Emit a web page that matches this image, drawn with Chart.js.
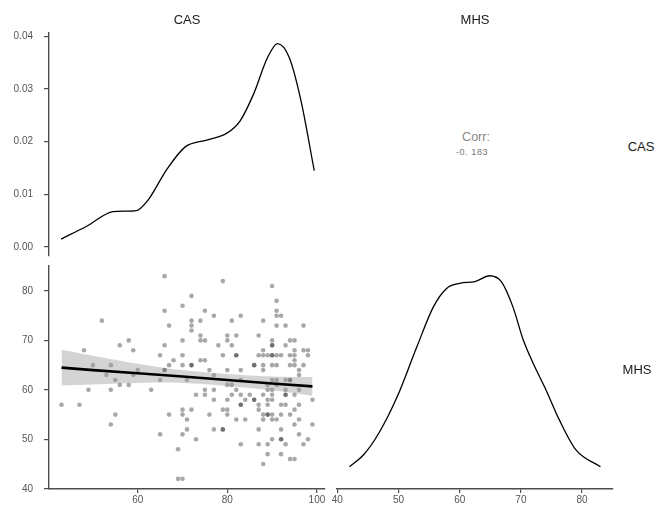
<!DOCTYPE html>
<html>
<head>
<meta charset="utf-8">
<script src="https://cdn.jsdelivr.net/npm/chart.js"></script>
<style>
  body { margin: 0; background: #fff; }
  #wrap { position: relative; width: 663px; height: 508px; font-family: "Liberation Sans", Arial, sans-serif; }
  canvas { position: absolute; }
  .lbl { position: absolute; transform: translate(-50%, -50%); white-space: nowrap; color: #1a1a1a; font-size: 13px; }
</style>
</head>
<body>
<div id="wrap">
  <canvas id="dens_cas" width="340" height="262" style="left:0;top:0"></canvas>
  <canvas id="scatter" width="340" height="246" style="left:0;top:262px"></canvas>
  <canvas id="dens_mhs" width="333" height="246" style="left:330px;top:262px"></canvas>
  <div class="lbl" style="left:187px;top:19px">CAS</div>
  <div class="lbl" style="left:475px;top:19px">MHS</div>
  <div class="lbl" style="left:641px;top:146px">CAS</div>
  <div class="lbl" style="left:637px;top:369px">MHS</div>
  <div class="lbl" style="left:476px;top:137px;color:#888;font-size:12.5px">Corr:</div>
  <div class="lbl" style="left:472px;top:152px;color:#777;font-size:9px;letter-spacing:0.6px">-0. 183</div>
</div>
<script>
// CAS density (top left)
let casDensX = [42.9, 48.5, 54.5, 57.0, 59.7, 62.3, 66.4, 70.6, 75.4, 79.9, 82.9, 85.9, 88.9, 91.2, 93.8, 96.4, 99.4];
let casDensY = [0.0015, 0.0039, 0.0067, 0.0068, 0.0069, 0.0089, 0.0146, 0.0190, 0.0203, 0.0216, 0.0240, 0.0291, 0.0358, 0.0386, 0.0360, 0.0279, 0.0145];

// MHS density (bottom right)
let mhsDensX = [42.0, 44.3, 46.8, 49.8, 53.0, 55.7, 57.9, 60.0, 62.5, 64.9, 66.8, 68.7, 70.3, 72.0, 74.1, 76.3, 79.0, 83.0];
let mhsDensY = [0.0050, 0.0077, 0.0126, 0.0208, 0.0320, 0.0410, 0.0452, 0.0463, 0.0467, 0.0480, 0.0467, 0.0410, 0.0339, 0.0283, 0.0223, 0.0155, 0.0088, 0.0050];

// scatter, CAS vs MHS
let cas = [
  66, 79, 90, 72, 91, 70,
  66, 75, 91,
  77, 83, 91, 92,
  52, 72, 74, 81, 88,
  67, 72, 91, 93, 97,
  72,
  74, 80, 82, 87,
  58, 70, 74, 75, 80, 90, 94, 95,
  56, 66, 78, 81, 90, 90, 93,
  48, 59, 88, 95, 97, 98,
  65, 70, 79, 82, 82, 87, 88, 89, 90, 90, 91, 92, 94, 95, 98,
  68, 74, 75, 95,
  50, 54, 67, 70, 72, 72, 86, 86, 88, 90, 91, 94, 95, 97,
  60, 66, 66, 76, 80, 83, 88, 96,
  53, 59, 77, 96,
  55, 65, 71, 83, 90, 91, 93, 94, 94,
  56, 58, 80, 81, 89, 91,
  49, 54, 63, 75, 77, 82, 89, 90, 93, 96,
  73, 75, 81, 83, 85, 88, 90, 93, 93, 95,
  77, 80, 84, 86, 86, 89, 90, 99,
  43, 47, 83, 83, 87, 89, 92, 93, 96,
  70, 72, 79, 80, 87, 95,
  55, 67, 70, 76, 80, 88, 89, 89, 90, 92, 94,
  71, 82, 84, 88, 90, 91, 96,
  54, 95, 99,
  71, 77, 79, 79, 87, 92,
  65, 70, 96,
  73, 90, 92, 92, 98,
  83, 87, 89, 93, 97,
  69, 89, 92, 94, 95, 88, 69, 70
];
let mhs = [
  83, 82, 81, 79, 78, 77,
  76, 76, 76,
  75, 75, 75, 75,
  74, 74, 74, 74, 74,
  73, 73, 73, 73, 73,
  72,
  71, 71, 71, 71,
  70, 70, 70, 70, 70, 70, 70, 70,
  69, 69, 69, 69, 69, 69, 69,
  68, 68, 68, 68, 68, 68,
  67, 67, 67, 67, 67, 67, 67, 67, 67, 67, 67, 67, 67, 67, 67,
  66, 66, 66, 66,
  65, 65, 65, 65, 65, 65, 65, 65, 65, 65, 65, 65, 65, 65,
  64, 64, 64, 64, 64, 64, 64, 64,
  63, 63, 63, 63,
  62, 62, 62, 62, 62, 62, 62, 62, 62,
  61, 61, 61, 61, 61, 61,
  60, 60, 60, 60, 60, 60, 60, 60, 60, 60,
  59, 59, 59, 59, 59, 59, 59, 59, 59, 59,
  58, 58, 58, 58, 58, 58, 58, 58,
  57, 57, 57, 57, 57, 57, 57, 57, 57,
  56, 56, 56, 56, 56, 56,
  55, 55, 55, 55, 55, 55, 55, 55, 55, 55, 55,
  54, 54, 54, 54, 54, 54, 54,
  53, 53, 53,
  52, 52, 52, 52, 52, 52,
  51, 51, 51,
  50, 50, 50, 50, 50,
  49, 49, 49, 49, 49,
  48, 47, 47, 46, 46, 45, 42, 42
];

// fitted line and confidence band
let fitX = [43, 50, 60, 70, 80, 90, 99];
let fitY = [64.5, 64.0, 63.35, 62.7, 62.0, 61.3, 60.7];
let fitLo = [60.9, 61.1, 61.4, 61.4, 60.8, 59.9, 58.8];
let fitHi = [68.1, 66.9, 65.3, 64.0, 63.2, 62.7, 62.6];

let densTicks = [0, 0.01, 0.02, 0.03, 0.04];
let casTicks = [60, 80, 100];
let mhsTicks = [40, 50, 60, 70, 80];

const axisCol = '#4d4d4d';
const tickFont = { family: 'Liberation Sans, Arial', size: 10 };

function pts(xs, ys) { return xs.map((x, i) => ({ x: x, y: ys[i] })); }

// fixed axis size, and no extra padding from the tick labels
function fixW(w) { return s => { s.width = w; s.paddingTop = 0; s.paddingBottom = 0; }; }
function fixH(h) { return s => { s.height = h; s.paddingLeft = 0; s.paddingRight = 0; }; }

function axis(extra, tickVals, fmt, pad, len) {
  return Object.assign({
    type: 'linear',
    border: { display: true, color: axisCol, width: 1.4 },
    grid: { drawOnChartArea: false, color: axisCol, lineWidth: 1.2, tickLength: len },
    ticks: { color: '#555', font: tickFont, padding: pad, callback: fmt || (v => v) },
    afterBuildTicks: s => { s.ticks = tickVals.map(v => ({ value: v })); }
  }, extra);
}

const common = {
  responsive: false,
  animation: false,
  plugins: { legend: { display: false }, tooltip: { enabled: false } }
};

new Chart(document.getElementById('dens_cas'), {
  type: 'line',
  data: {
    datasets: [{
      data: pts(casDensX, casDensY),
      borderColor: '#000', borderWidth: 1.3, pointRadius: 0,
      cubicInterpolationMode: 'monotone'
    }]
  },
  options: Object.assign({}, common, {
    layout: { padding: { top: 33, right: 15, bottom: 6, left: 0 } },
    scales: {
      x: { type: 'linear', display: false, min: 40.2, max: 101.8 },
      y: axis({ min: -0.0017, max: 0.0406, afterFit: fixW(49) }, densTicks, v => v.toFixed(2), 11, 5)
    }
  })
});

new Chart(document.getElementById('scatter'), {
  type: 'scatter',
  data: {
    datasets: [
      {
        data: pts(cas, mhs), order: 3,
        backgroundColor: 'rgba(0,0,0,0.34)', borderWidth: 0, pointRadius: 2.3
      },
      {
        data: pts(fitX, fitLo), showLine: true, pointRadius: 0, order: 2,
        borderWidth: 0, borderColor: 'rgba(0,0,0,0)', tension: 0.4
      },
      {
        data: pts(fitX, fitHi), showLine: true, pointRadius: 0, order: 2,
        borderWidth: 0, borderColor: 'rgba(0,0,0,0)', tension: 0.4,
        fill: '-1', backgroundColor: 'rgba(153,153,153,0.42)'
      },
      {
        data: pts(fitX, fitY), showLine: true, pointRadius: 0, order: 1,
        borderColor: '#000', borderWidth: 2.6
      }
    ]
  },
  options: Object.assign({}, common, {
    layout: { padding: { top: 4, right: 15, bottom: 0, left: 0 } },
    scales: {
      x: axis({ min: 40.2, max: 101.8, afterFit: fixH(19) }, casTicks, null, 1, 4),
      y: axis({ min: 39.95, max: 85.05, afterFit: fixW(49) }, mhsTicks, null, 11, 5)
    }
  })
});

new Chart(document.getElementById('dens_mhs'), {
  type: 'line',
  data: {
    datasets: [{
      data: pts(mhsDensX, mhsDensY),
      borderColor: '#000', borderWidth: 1.3, pointRadius: 0,
      cubicInterpolationMode: 'monotone'
    }]
  },
  options: Object.assign({}, common, {
    layout: { padding: { top: 4, right: 50, bottom: 0, left: 7 } },
    scales: {
      x: axis({ min: 39.95, max: 85.05, afterFit: fixH(19) }, mhsTicks, null, 1, 4),
      y: { type: 'linear', display: false, min: 0, max: 0.0502 }
    }
  })
});
</script>
</body>
</html>
